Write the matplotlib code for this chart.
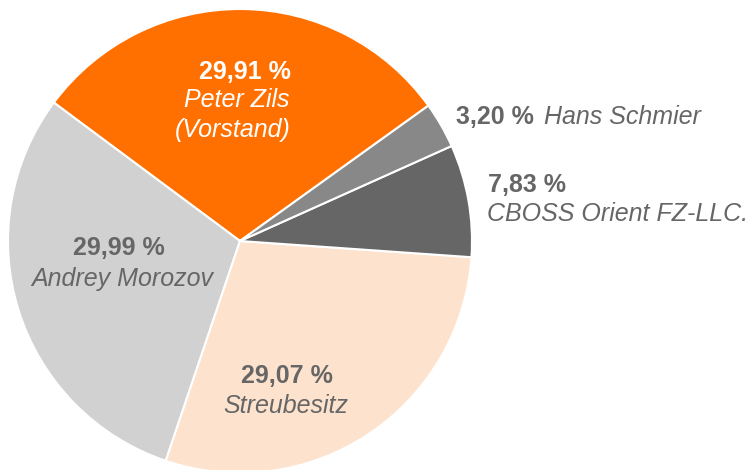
import matplotlib
matplotlib.use("Agg")
import matplotlib.pyplot as plt

# shareholder structure
names = ["Peter Zils\n(Vorstand)", "Andrey Morozov", "Streubesitz",
         "CBOSS Orient FZ-LLC.", "Hans Schmier"]
shares = [29.91, 29.99, 29.07, 7.83, 3.20]
colors = ["#FF7000", "#D1D1D1", "#FDE2CD", "#666666", "#888888"]

plt.rcParams['font.family'] = ['Liberation Sans', 'DejaVu Sans']

fig = plt.figure(figsize=(7.48, 4.70), dpi=100)
W, H = 748, 470
cx, cy, r = 240, 241, 232
ax = fig.add_axes([(cx - r) / W, (H - cy - r) / H, 2 * r / W, 2 * r / H])

ax.pie(shares, colors=colors, startangle=35.7, counterclock=True,
       wedgeprops=dict(edgecolor="white", linewidth=1.5))
ax.set_xlim(-1, 1)
ax.set_ylim(-1, 1)
ax.set_aspect("equal")
ax.axis("off")

def fmt(v):
    return f"{v:.2f}".replace(".", ",") + " %"

fs = 18
gray = "#666666"
# label positions (data coords of the pie axes)
# Peter Zils
ax.text(0.022, 0.728, fmt(shares[0]), ha="center", va="center", fontsize=fs,
        fontweight="bold", color="white")
ax.text(-0.013, 0.608, "Peter Zils", ha="center", va="center", fontsize=fs,
        style="italic", color="white")
ax.text(-0.030, 0.478, "(Vorstand)", ha="center", va="center", fontsize=fs,
        style="italic", color="white")
# Andrey Morozov
ax.text(-0.522, -0.030, fmt(shares[1]), ha="center", va="center", fontsize=fs,
        fontweight="bold", color=gray)
ax.text(-0.509, -0.164, names[1], ha="center", va="center", fontsize=fs,
        style="italic", color=gray)
# Streubesitz
ax.text(0.203, -0.582, fmt(shares[2]), ha="center", va="center", fontsize=fs,
        fontweight="bold", color=gray)
ax.text(0.198, -0.711, names[2], ha="center", va="center", fontsize=fs,
        style="italic", color=gray)
# CBOSS
ax.text(1.069, 0.241, fmt(shares[3]), ha="left", va="center", fontsize=fs,
        fontweight="bold", color=gray)
ax.text(1.065, 0.116, names[3], ha="left", va="center", fontsize=fs,
        style="italic", color=gray)
# Hans Schmier
ax.text(0.931, 0.534, fmt(shares[4]), ha="left", va="center", fontsize=fs,
        fontweight="bold", color=gray)
ax.text(1.310, 0.534, names[4], ha="left", va="center", fontsize=fs,
        style="italic", color=gray)

fig.savefig("out.png", dpi=100)
